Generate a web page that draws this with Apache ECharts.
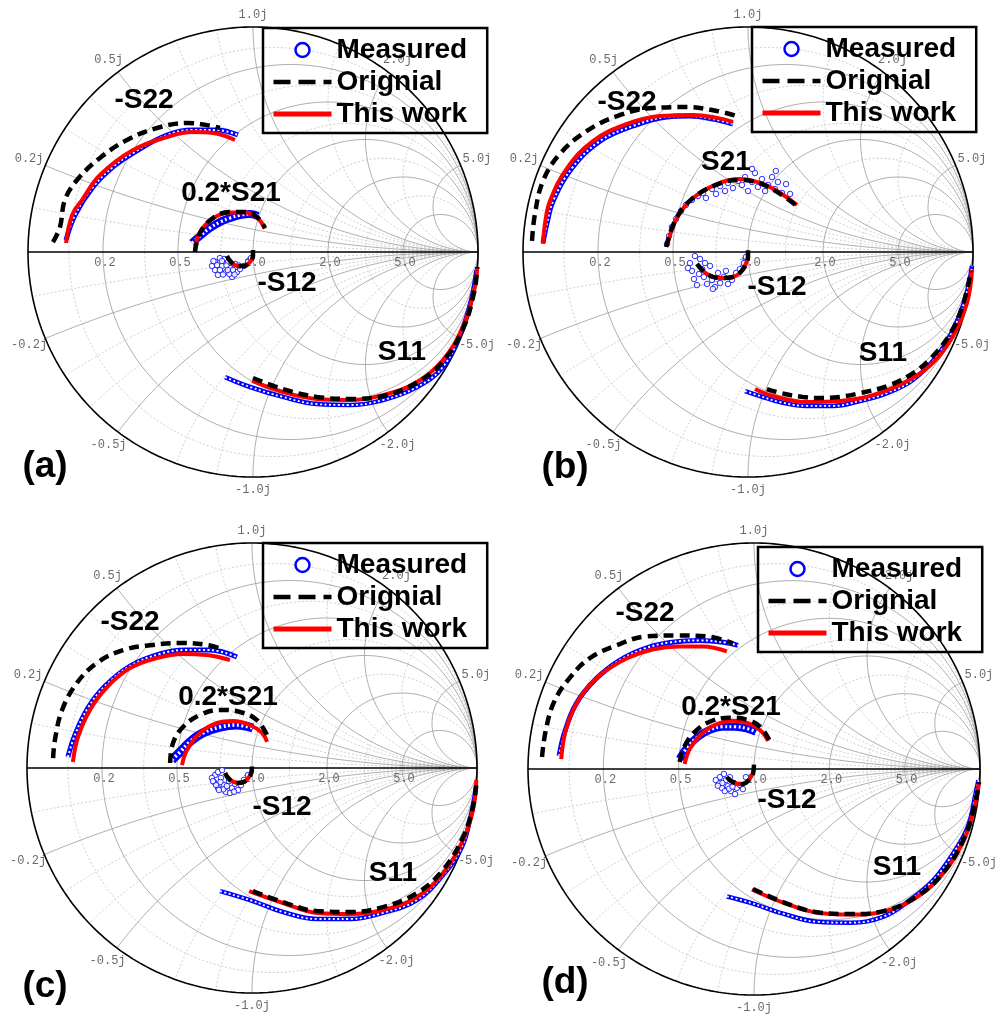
<!DOCTYPE html>
<html><head><meta charset="utf-8">
<script src="https://cdn.jsdelivr.net/npm/echarts/dist/echarts.min.js"></script>
<style>html,body{margin:0;padding:0;background:#fff}#chart{width:1000px;height:1019px}</style>
</head><body><div id="chart"></div>
<script>
// ---------------- DATA (reflection coefficient, real/imag) ----------------
// Panel (a)
const aS22Meas = [[-0.831,0.053],[-0.791,0.164],[-0.711,0.289],[-0.622,0.378],[-0.533,0.440],[-0.382,0.520],[-0.267,0.542],[-0.160,0.542],[-0.067,0.520]];
const aS22Orig = [[-0.889,0.044],[-0.858,0.111],[-0.836,0.231],[-0.782,0.320],[-0.680,0.418],[-0.560,0.498],[-0.427,0.551],[-0.293,0.573],[-0.204,0.564],[-0.147,0.551]];
const aS22Work = [[-0.831,0.040],[-0.804,0.164],[-0.760,0.231],[-0.680,0.342],[-0.533,0.453],[-0.382,0.511],[-0.267,0.533],[-0.178,0.529],[-0.080,0.498]];
const aS21Meas = [[-0.271,0.040],[-0.236,0.071],[-0.191,0.107],[-0.147,0.133],[-0.102,0.151],[-0.058,0.164],[-0.013,0.169],[0.022,0.160]];
const aS21Orig = [[-0.258,0.000],[-0.236,0.084],[-0.178,0.151],[-0.102,0.178],[-0.036,0.178],[0.018,0.156],[0.053,0.107]];
const aS21Work = [[-0.258,0.004],[-0.240,0.080],[-0.182,0.147],[-0.102,0.176],[-0.036,0.176],[0.018,0.153],[0.053,0.104]];
const aS12Meas = [[-0.169,-0.044],[-0.169,-0.080],[-0.156,-0.102],[-0.138,-0.062],[-0.129,-0.031],[-0.120,-0.089],[-0.102,-0.071],[-0.093,-0.111],[-0.080,-0.053],[-0.071,-0.089],[-0.058,-0.076],[-0.040,-0.062],[-0.022,-0.044],[-0.009,-0.027],[-0.147,-0.027],[-0.182,-0.062],[-0.111,-0.044],[-0.089,-0.080],[-0.160,-0.058],[-0.147,-0.080],[-0.133,-0.100],[-0.118,-0.060],[-0.105,-0.098],[-0.082,-0.100],[-0.176,-0.040],[-0.138,-0.040],[-0.063,-0.060],[-0.112,-0.080]];
const aS12Orig = [[-0.116,-0.018],[-0.098,-0.044],[-0.071,-0.062],[-0.040,-0.062],[-0.013,-0.044],[0.000,-0.018],[0.000,0.009]];
const aS12Work = [[-0.107,-0.031],[-0.093,-0.049],[-0.071,-0.062],[-0.040,-0.062],[-0.013,-0.044],[0.000,-0.018]];
const aS11Meas = [[-0.124,-0.556],[-0.013,-0.600],[0.133,-0.644],[0.284,-0.676],[0.431,-0.680],[0.578,-0.658],[0.729,-0.600],[0.844,-0.511],[0.925,-0.355],[0.970,-0.210],[0.993,-0.080]];
const aS11Orig = [[0.000,-0.560],[0.133,-0.609],[0.284,-0.644],[0.431,-0.653],[0.578,-0.640],[0.729,-0.580],[0.844,-0.487],[0.933,-0.342],[0.983,-0.178],[0.997,-0.067]];
const aS11Work = [[-0.004,-0.573],[0.133,-0.622],[0.284,-0.653],[0.431,-0.658],[0.578,-0.636],[0.729,-0.578],[0.844,-0.480],[0.933,-0.333],[0.983,-0.169],[0.997,-0.067]];

// Panel (b)
const bS22Meas = [[-0.911,0.040],[-0.893,0.129],[-0.866,0.227],[-0.782,0.373],[-0.658,0.493],[-0.511,0.560],[-0.360,0.600],[-0.258,0.604],[-0.156,0.591],[-0.067,0.569]];
const bS22Orig = [[-0.960,0.049],[-0.947,0.169],[-0.911,0.316],[-0.836,0.436],[-0.716,0.538],[-0.582,0.604],[-0.422,0.640],[-0.271,0.644],[-0.138,0.627],[-0.049,0.604]];
const bS22Work = [[-0.911,0.036],[-0.902,0.129],[-0.880,0.227],[-0.804,0.373],[-0.689,0.493],[-0.538,0.569],[-0.391,0.604],[-0.244,0.609],[-0.138,0.596],[-0.067,0.578]];
const bS21Meas = [[-0.360,0.036],[-0.351,0.071],[-0.338,0.111],[-0.320,0.147],[-0.298,0.182],[-0.276,0.209],[-0.249,0.231],[-0.222,0.249],[-0.200,0.262],[-0.187,0.240],[-0.160,0.280],[-0.142,0.258],[-0.124,0.293],[-0.102,0.271],[-0.089,0.307],[-0.067,0.284],[-0.044,0.316],[-0.027,0.298],[-0.013,0.333],[0.000,0.271],[0.018,0.311],[0.031,0.351],[0.044,0.289],[0.062,0.324],[0.076,0.271],[0.089,0.298],[0.107,0.333],[0.120,0.280],[0.133,0.311],[0.151,0.262],[0.169,0.302],[0.187,0.258],[0.124,0.360],[0.018,0.369]];
const bS21Orig = [[-0.364,0.022],[-0.320,0.147],[-0.249,0.236],[-0.142,0.298],[-0.040,0.320],[0.049,0.307],[0.129,0.267],[0.218,0.204]];
const bS21Work = [[-0.360,0.027],[-0.316,0.151],[-0.244,0.240],[-0.138,0.302],[-0.036,0.324],[0.053,0.307],[0.129,0.271],[0.218,0.209]];
const bS12Meas = [[-0.258,-0.049],[-0.249,-0.084],[-0.240,-0.120],[-0.227,-0.147],[-0.213,-0.031],[-0.204,-0.076],[-0.196,-0.111],[-0.182,-0.142],[-0.169,-0.062],[-0.160,-0.124],[-0.147,-0.156],[-0.133,-0.093],[-0.124,-0.138],[-0.107,-0.111],[-0.089,-0.142],[-0.071,-0.124],[-0.053,-0.093],[-0.036,-0.076],[-0.018,-0.049],[-0.009,-0.022],[-0.236,-0.018],[-0.191,-0.049],[-0.267,-0.071],[-0.156,-0.164],[-0.098,-0.084],[-0.218,-0.098]];
const bS12Orig = [[-0.227,-0.053],[-0.182,-0.098],[-0.124,-0.116],[-0.067,-0.111],[-0.022,-0.076],[0.000,-0.022],[0.000,0.009]];
const bS12Work = [[-0.218,-0.062],[-0.182,-0.098],[-0.124,-0.116],[-0.067,-0.111],[-0.022,-0.076],[0.000,-0.022]];
const bS11Meas = [[-0.013,-0.618],[0.053,-0.640],[0.142,-0.667],[0.262,-0.684],[0.378,-0.684],[0.498,-0.662],[0.618,-0.627],[0.733,-0.569],[0.840,-0.462],[0.911,-0.347],[0.964,-0.213],[0.996,-0.062]];
const bS11Orig = [[0.084,-0.609],[0.164,-0.631],[0.244,-0.644],[0.320,-0.649],[0.409,-0.644],[0.498,-0.627],[0.618,-0.596],[0.720,-0.547],[0.809,-0.476],[0.898,-0.364],[0.956,-0.231],[0.991,-0.084]];
const bS11Work = [[0.031,-0.609],[0.111,-0.640],[0.262,-0.667],[0.409,-0.662],[0.556,-0.636],[0.707,-0.573],[0.822,-0.493],[0.911,-0.373],[0.973,-0.227],[0.996,-0.080]];

// Panel (c)
const cS22Meas = [[-0.818,0.049],[-0.787,0.147],[-0.729,0.267],[-0.653,0.364],[-0.542,0.453],[-0.409,0.507],[-0.298,0.524],[-0.187,0.524],[-0.067,0.493]];
const cS22Orig = [[-0.884,0.044],[-0.876,0.124],[-0.844,0.258],[-0.778,0.378],[-0.689,0.467],[-0.573,0.524],[-0.440,0.547],[-0.307,0.556],[-0.200,0.547],[-0.133,0.529]];
const cS22Work = [[-0.796,0.027],[-0.773,0.138],[-0.720,0.258],[-0.644,0.360],[-0.542,0.444],[-0.422,0.489],[-0.307,0.507],[-0.200,0.502],[-0.098,0.480]];
const cS21Meas = [[-0.356,0.036],[-0.320,0.071],[-0.276,0.116],[-0.218,0.156],[-0.142,0.182],[-0.067,0.191],[0.004,0.178]];
const cS21Orig = [[-0.364,0.022],[-0.351,0.111],[-0.307,0.182],[-0.231,0.236],[-0.142,0.258],[-0.053,0.249],[0.022,0.213],[0.071,0.138]];
const cS21Work = [[-0.311,0.013],[-0.289,0.080],[-0.231,0.156],[-0.156,0.200],[-0.084,0.209],[-0.009,0.191],[0.044,0.156],[0.067,0.116]];
const cS12Meas = [[-0.164,-0.031],[-0.169,-0.062],[-0.151,-0.089],[-0.138,-0.044],[-0.124,-0.076],[-0.116,-0.107],[-0.102,-0.058],[-0.089,-0.089],[-0.076,-0.071],[-0.062,-0.098],[-0.049,-0.076],[-0.036,-0.053],[-0.018,-0.031],[-0.151,-0.018],[-0.133,-0.009],[-0.178,-0.044],[-0.098,-0.111],[-0.160,-0.075],[-0.140,-0.062],[-0.128,-0.095],[-0.112,-0.080],[-0.080,-0.105],[-0.147,-0.098],[-0.174,-0.058]];
const cS12Orig = [[-0.120,-0.022],[-0.102,-0.049],[-0.071,-0.067],[-0.036,-0.062],[-0.009,-0.036],[0.000,0.000],[0.000,0.022]];
const cS12Work = [[-0.111,-0.036],[-0.089,-0.058],[-0.062,-0.067],[-0.036,-0.062],[-0.009,-0.036],[0.000,0.000]];
const cS11Meas = [[-0.142,-0.547],[-0.009,-0.587],[0.138,-0.640],[0.289,-0.671],[0.436,-0.671],[0.582,-0.644],[0.733,-0.587],[0.849,-0.476],[0.933,-0.351],[0.972,-0.215],[0.996,-0.084]];
const cS11Orig = [[0.004,-0.547],[0.138,-0.596],[0.289,-0.636],[0.436,-0.640],[0.582,-0.618],[0.733,-0.556],[0.849,-0.453],[0.938,-0.307],[0.982,-0.173],[0.997,-0.067]];
const cS11Work = [[-0.013,-0.547],[0.138,-0.600],[0.289,-0.644],[0.436,-0.649],[0.582,-0.631],[0.733,-0.573],[0.849,-0.467],[0.938,-0.320],[0.982,-0.187],[0.997,-0.053]];

// Panel (d)
const dS22Meas = [[-0.862,0.058],[-0.840,0.156],[-0.787,0.289],[-0.698,0.400],[-0.596,0.480],[-0.484,0.533],[-0.373,0.560],[-0.240,0.569],[-0.129,0.560],[-0.071,0.547]];
const dS22Orig = [[-0.938,0.053],[-0.920,0.178],[-0.884,0.298],[-0.818,0.400],[-0.729,0.489],[-0.609,0.547],[-0.476,0.587],[-0.342,0.591],[-0.209,0.587],[-0.093,0.556]];
const dS22Work = [[-0.853,0.044],[-0.831,0.178],[-0.773,0.311],[-0.684,0.413],[-0.564,0.489],[-0.449,0.529],[-0.329,0.542],[-0.227,0.542],[-0.120,0.520]];
const dS21Meas = [[-0.329,0.044],[-0.293,0.098],[-0.249,0.142],[-0.196,0.173],[-0.142,0.187],[-0.084,0.187],[-0.027,0.178],[0.009,0.164]];
const dS21Orig = [[-0.329,0.031],[-0.307,0.102],[-0.262,0.164],[-0.196,0.209],[-0.107,0.227],[-0.031,0.218],[0.027,0.187],[0.067,0.129]];
const dS21Work = [[-0.307,0.022],[-0.284,0.089],[-0.240,0.147],[-0.182,0.191],[-0.093,0.213],[-0.018,0.200],[0.036,0.164],[0.062,0.124]];
const dS12Meas = [[-0.151,-0.036],[-0.156,-0.062],[-0.142,-0.084],[-0.124,-0.049],[-0.116,-0.076],[-0.102,-0.098],[-0.089,-0.062],[-0.076,-0.084],[-0.062,-0.071],[-0.049,-0.089],[-0.133,-0.022],[-0.107,-0.036],[-0.169,-0.049],[-0.129,-0.098],[-0.036,-0.036],[-0.084,-0.111],[-0.140,-0.062],[-0.110,-0.087],[-0.160,-0.074],[-0.095,-0.078]];
const dS12Orig = [[-0.120,-0.036],[-0.093,-0.058],[-0.053,-0.067],[-0.027,-0.053],[-0.004,-0.018],[0.000,0.022]];
const dS12Work = [[-0.111,-0.044],[-0.093,-0.058],[-0.053,-0.067],[-0.027,-0.053],[-0.004,-0.018]];
const dS11Meas = [[-0.120,-0.564],[-0.018,-0.591],[0.129,-0.640],[0.280,-0.676],[0.427,-0.680],[0.573,-0.653],[0.693,-0.578],[0.796,-0.489],[0.884,-0.369],[0.947,-0.253],[0.982,-0.102],[0.993,-0.050]];
const dS11Orig = [[-0.004,-0.531],[0.129,-0.589],[0.280,-0.634],[0.427,-0.642],[0.573,-0.629],[0.724,-0.562],[0.840,-0.456],[0.929,-0.309],[0.973,-0.176],[0.996,-0.058]];
const dS11Work = [[-0.009,-0.533],[0.129,-0.591],[0.280,-0.636],[0.427,-0.644],[0.573,-0.631],[0.724,-0.564],[0.840,-0.458],[0.929,-0.311],[0.973,-0.178],[0.996,-0.058]];

// Smith chart grid values and tick labels
const rMajor = [0.2, 0.5, 1, 2, 5];
const rMinor = [0.1, 0.35, 0.75, 1.4, 3];
const xMajor = [0.2, 0.5, 1, 2, 5];
const xMinor = [0.1, 0.3, 0.4, 0.7, 0.85, 1.5, 3];
const rTickValues = [0.2, 0.5, 1.0, 2.0, 5.0];
const rTickLabels = ['0.2', '0.5', '1.0', '2.0', '5.0'];
const xTickValues = [0.2, 0.5, 1.0, 2.0, 5.0, -0.2, -0.5, -1.0, -2.0, -5.0];
const xTickLabels = ['0.2j', '0.5j', '1.0j', '2.0j', '5.0j', '-0.2j', '-0.5j', '-1.0j', '-2.0j', '-5.0j'];
const legendNames = ['Measured', 'Orignial', 'This work'];

// ---------------- LAYOUT ----------------
const panels = [
  {box:[28, 27, 450], legend:[263, 28], curves:[
    {m:aS22Meas, o:aS22Orig, w:aS22Work, kind:'band', bw:5},
    {m:aS21Meas, o:aS21Orig, w:aS21Work, kind:'band', bw:8},
    {m:aS12Meas, o:aS12Orig, w:aS12Work, kind:'cloud'},
    {m:aS11Meas, o:aS11Orig, w:aS11Work, kind:'band', bw:4.5}],
   notes:[['-S22',144,100],['0.2*S21',231,193],['-S12',287,283],['S11',402,352]], tag:['(a)',45,467]},
  {box:[523, 27, 450], legend:[752, 27], curves:[
    {m:bS22Meas, o:bS22Orig, w:bS22Work, kind:'band', bw:5},
    {m:bS21Meas, o:bS21Orig, w:bS21Work, kind:'cloud'},
    {m:bS12Meas, o:bS12Orig, w:bS12Work, kind:'cloud'},
    {m:bS11Meas, o:bS11Orig, w:bS11Work, kind:'band', bw:4.5}],
   notes:[['-S22',627,102],['S21',726,162],['-S12',777,287],['S11',883,353]], tag:['(b)',565,468]},
  {box:[27, 543, 450], legend:[263, 543], curves:[
    {m:cS22Meas, o:cS22Orig, w:cS22Work, kind:'band', bw:5},
    {m:cS21Meas, o:cS21Orig, w:cS21Work, kind:'band', bw:9},
    {m:cS12Meas, o:cS12Orig, w:cS12Work, kind:'cloud'},
    {m:cS11Meas, o:cS11Orig, w:cS11Work, kind:'band', bw:4.5}],
   notes:[['-S22',130,622],['0.2*S21',228,697],['-S12',282,807],['S11',393,873]], tag:['(c)',45,987]},
  {box:[528, 543, 452], legend:[758, 547], curves:[
    {m:dS22Meas, o:dS22Orig, w:dS22Work, kind:'band', bw:5},
    {m:dS21Meas, o:dS21Orig, w:dS21Work, kind:'band', bw:8},
    {m:dS12Meas, o:dS12Orig, w:dS12Work, kind:'cloud'},
    {m:dS11Meas, o:dS11Orig, w:dS11Work, kind:'band', bw:4.5}],
   notes:[['-S22',645,613],['0.2*S21',731,707],['-S12',787,800],['S11',897,867]], tag:['(d)',565,983]}
];

// ---------------- SMITH GEOMETRY ----------------
function circlePts(cx, cy, rad, n) {
  const a = [];
  for (let i = 0; i <= n; i++) { const t = 2 * Math.PI * i / n; a.push([cx + rad * Math.cos(t), cy + rad * Math.sin(t)]); }
  return a;
}
function rCircle(r) { return circlePts(r / (1 + r), 0, 1 / (1 + r), 200); }
function xArc(x) {
  const ax = Math.abs(x), cy = 1 / ax, rad = 1 / ax;
  let pb = Math.atan2((ax * ax - 1) / (ax * (ax * ax + 1)), -2 / (ax * ax + 1));
  if (pb > -Math.PI / 2) pb -= 2 * Math.PI;
  const pts = [], n = 160;
  for (let i = 0; i <= n; i++) {
    const a = -Math.PI / 2 + (pb + Math.PI / 2) * i / n;
    const px = 1 + rad * Math.cos(a), py = cy + rad * Math.sin(a);
    pts.push([px, x < 0 ? -py : py]);
  }
  return pts;
}
function joinGaps(list) {
  const out = [];
  list.forEach((pts, i) => { if (i) out.push(['-', '-']); pts.forEach(p => out.push(p)); });
  return out;
}
const majorLines = joinGaps([...rMajor.map(rCircle), ...xMajor.map(xArc), ...xMajor.map(v => xArc(-v))]);
const minorLines = joinGaps([...rMinor.map(rCircle), ...xMinor.map(xArc), ...xMinor.map(v => xArc(-v))]);
const outline = circlePts(0, 0, 1, 360);
function gammaOf(r, x) { const d = (r + 1) * (r + 1) + x * x; return [(r * r + x * x - 1) / d, 2 * x / d]; }
const rTickData = rTickValues.map((r, i) => ({value: [gammaOf(r, 0)[0], 0], name: rTickLabels[i]}));
const xTickData = xTickValues.map((x, i) => {
  const g = gammaOf(0, x); const f = 1.055 + 0.025 * Math.abs(g[0]);
  return {value: [g[0] * f, g[1] * f], name: xTickLabels[i]};
});

// ---------------- OPTION ----------------
const BLUE = '#0000ff';
const grids = [], xAxes = [], yAxes = [], series = [], legends = [], graphics = [];
panels.forEach((p, gi) => {
  grids.push({left: p.box[0], top: p.box[1], width: p.box[2], height: p.box[2], containLabel: false});
  xAxes.push({type: 'value', gridIndex: gi, min: -1, max: 1, show: false});
  yAxes.push({type: 'value', gridIndex: gi, min: -1, max: 1, show: false});
  const base = {xAxisIndex: gi, yAxisIndex: gi, animation: false, clip: false, silent: true};
  series.push({...base, type: 'line', name: 'gridMinor', data: minorLines, symbol: 'none', z: 1,
    lineStyle: {color: '#c4c4c4', width: 0.8, type: [2, 2]}});
  series.push({...base, type: 'line', name: 'gridMajor', data: majorLines, symbol: 'none', z: 1,
    lineStyle: {color: '#999999', width: 0.8}});
  series.push({...base, type: 'line', name: 'outline', data: outline, symbol: 'none', z: 2,
    lineStyle: {color: '#000', width: 1.6}});
  series.push({...base, type: 'line', name: 'realAxis', data: [[-1, 0], [1, 0]], symbol: 'none', z: 2,
    lineStyle: {color: '#000', width: 1.5}});
  series.push({...base, type: 'scatter', name: 'rTicks', data: rTickData, symbolSize: 1, z: 2,
    itemStyle: {color: 'rgba(0,0,0,0)'},
    label: {show: true, position: 'bottom', distance: 4, offset: [2, 0], formatter: '{b}', color: '#444', fontSize: 12, fontFamily: 'Liberation Mono'}});
  series.push({...base, type: 'scatter', name: 'xTicks', data: xTickData, symbolSize: 1, z: 2,
    itemStyle: {color: 'rgba(0,0,0,0)'},
    label: {show: true, position: 'inside', formatter: '{b}', color: '#444', fontSize: 12, fontFamily: 'Liberation Mono'}});
  p.curves.forEach(c => {
    if (c.kind === 'cloud') {
      series.push({...base, type: 'scatter', name: 'Measured', data: c.m, symbol: 'circle', symbolSize: 5.5, z: 3,
        itemStyle: {color: '#fff', borderColor: BLUE, borderWidth: 1}});
    } else {
      series.push({...base, type: 'line', name: 'Measured', data: c.m, smooth: 0.4, symbol: 'none', z: 3,
        itemStyle: {color: BLUE}, lineStyle: {color: BLUE, width: c.bw}});
      series.push({...base, type: 'line', name: 'measInner', data: c.m, smooth: 0.4, symbol: 'none', z: 3,
        lineStyle: {color: '#fff', width: c.bw * 0.4, type: [2, 2.5]}});
    }
    series.push({...base, type: 'line', name: 'This work', data: c.w, smooth: 0.4, symbol: 'none', z: 4,
      itemStyle: {color: '#ff0000'}, lineStyle: {color: '#ff0000', width: 4}});
    series.push({...base, type: 'line', name: 'Orignial', data: c.o, smooth: 0.4, symbol: 'none', z: 5,
      itemStyle: {color: '#000'}, lineStyle: {color: '#000', width: 4.5, type: [10, 6]}});
  });
  legends.push({
    left: p.legend[0], top: p.legend[1], orient: 'vertical', selectedMode: false,
    itemWidth: 58, itemHeight: 14, itemGap: 4, padding: [8, 20, 5, 8],
    borderColor: '#000', borderWidth: 2.5, backgroundColor: 'transparent',
    textStyle: {fontSize: 28, fontWeight: 'bold', fontFamily: 'Liberation Sans', color: '#000'},
    data: [
      {name: legendNames[0], icon: 'circle', itemStyle: {color: '#fff', borderColor: BLUE, borderWidth: 2.5}},
      {name: legendNames[1], itemStyle: {color: 'rgba(0,0,0,0)', borderWidth: 0, opacity: 0}, lineStyle: {color: '#000', width: 4.5, type: [17, 8]}},
      {name: legendNames[2], itemStyle: {color: 'rgba(0,0,0,0)', borderWidth: 0, opacity: 0}, lineStyle: {color: '#ff0000', width: 5}}
    ]
  });
  p.notes.forEach(n => graphics.push({type: 'text', x: n[1], y: n[2], silent: true, z: 10,
    style: {text: n[0], fill: '#000', font: 'bold 28px "Liberation Sans"', align: 'center', verticalAlign: 'middle', textAlign: 'center', textVerticalAlign: 'middle'}}));
  graphics.push({type: 'text', x: p.tag[1], y: p.tag[2], silent: true, z: 10,
    style: {text: p.tag[0], fill: '#000', font: 'bold 37px "Liberation Sans"', align: 'center', verticalAlign: 'middle', textAlign: 'center', textVerticalAlign: 'middle'}});
});

const chart = echarts.init(document.getElementById('chart'), null, {renderer: 'canvas'});
chart.setOption({
  animation: false,
  backgroundColor: '#fff',
  grid: grids, xAxis: xAxes, yAxis: yAxes,
  legend: legends, series: series, graphic: graphics
});
</script>
</body></html>
